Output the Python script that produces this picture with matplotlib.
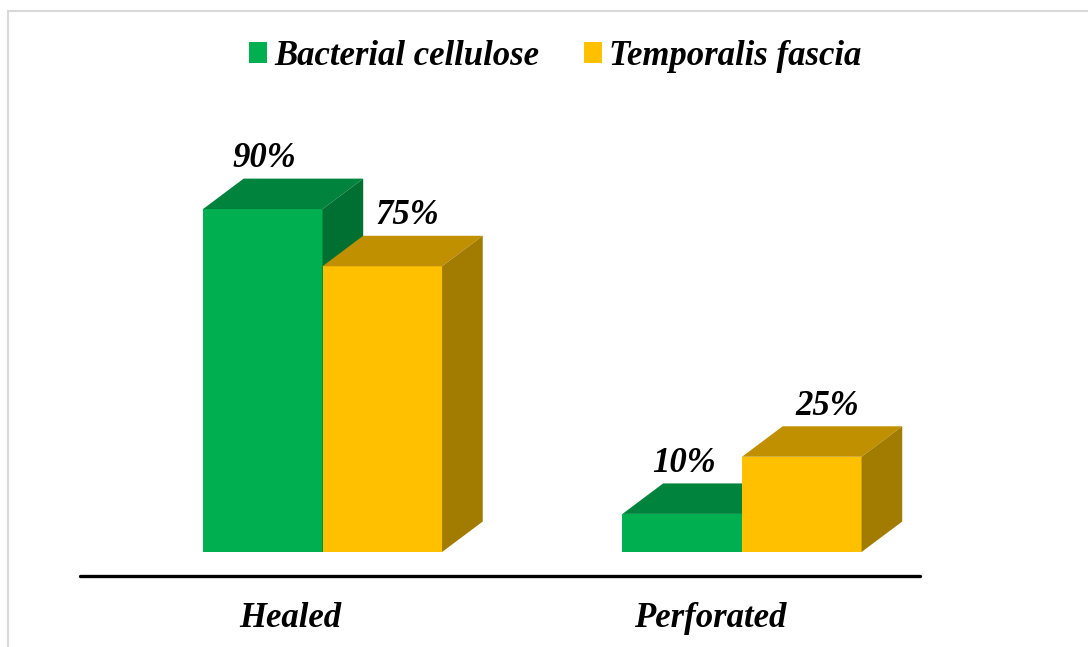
import matplotlib.pyplot as plt
from matplotlib.patches import Polygon, Rectangle, Patch

# ---- data ----
categories = ["Healed", "Perforated"]
series = ["Bacterial cellulose", "Temporalis fascia"]
bacterial = [90, 10]
temporalis = [75, 25]

# colors: front, top, side
colors = {
    "Bacterial cellulose": ("#00B050", "#00833C", "#006F32"),
    "Temporalis fascia": ("#FFC000", "#C09000", "#A27C00"),
}

plt.rcParams["font.family"] = ["Liberation Serif", "DejaVu Serif"]
FONT = dict(fontsize=25, fontweight="bold", fontstyle="italic")

W = 0.285       # bar width (category units)
DX = 0.097      # depth offset in x
DY = 8.0        # depth offset in y (percent units)

fig = plt.figure(figsize=(10.88, 6.47), dpi=100)
ax = fig.add_axes([0, 0, 1, 1])
ax.set_xlim(-0.7688, 1.8248)
ax.set_ylim(-24.93, 144.88)
ax.axis("off")


def bar3d(x0, h, front, top, side):
    x1 = x0 + W
    ax.add_patch(Polygon([(x0, 0), (x1, 0), (x1, h), (x0, h)], closed=True,
                         facecolor=front, edgecolor="none"))
    ax.add_patch(Polygon([(x0, h), (x1, h), (x1 + DX, h + DY), (x0 + DX, h + DY)],
                         closed=True, facecolor=top, edgecolor="none"))
    ax.add_patch(Polygon([(x1, 0), (x1 + DX, DY), (x1 + DX, h + DY), (x1, h)],
                         closed=True, facecolor=side, edgecolor="none"))


for i, cat in enumerate(categories):
    for j, (name, vals) in enumerate(zip(series, [bacterial, temporalis])):
        x0 = i - W + j * W
        bar3d(x0, vals[i], *colors[name])
        lx = x0 + W / 2 + (0.005 if j == 0 else 0.06)
        ax.text(lx, vals[i] + DY + 3.0, f"{vals[i]}%", ha="center",
                va="baseline", **FONT)
    ax.text(i - 0.076, -17.5, cat, ha="center", va="center", **FONT)

# horizontal axis line
ax.plot([-0.578, 1.424], [-6.3, -6.3], color="black", lw=2.4,
        solid_capstyle="round")

# legend
handles = [Patch(facecolor=colors[s][0], edgecolor="none", label=s) for s in series]
leg = fig.legend(handles=handles, loc="center", bbox_to_anchor=(0.5105, 0.913),
                 ncol=2, frameon=False, handlelength=0.52, handleheight=0.52,
                 handletextpad=0.2, columnspacing=1.3,
                 prop=dict(family="Liberation Serif", size=25, weight="bold",
                           style="italic"))

# light gray chart border (top and left visible)
fig.patches.append(Rectangle((7.5 / 1088, -0.1), 1.5, 1.1 - 10.5 / 647,
                             transform=fig.transFigure, fill=False,
                             edgecolor="#d9d9d9", lw=1.5))

fig.savefig("out.png", dpi=100)
